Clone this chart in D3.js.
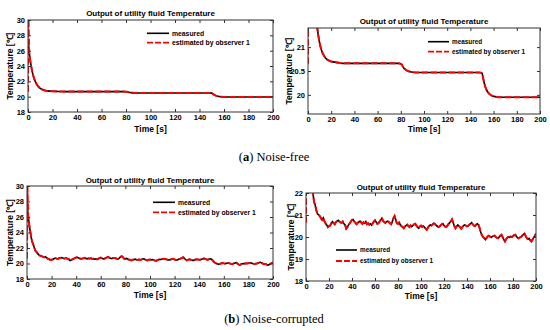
<!DOCTYPE html>
<html><head><meta charset="utf-8">
<script src="https://cdn.jsdelivr.net/npm/d3@7"></script>
<style>body{margin:0;background:#fff}svg{display:block}</style>
</head><body>
<svg id="c" width="550" height="330"></svg>
<script>
// ---------- DATA ----------
const seriesNames = ["measured", "estimated by observer 1"];
const titleText = "Output of utility fluid Temperature";
const xLabel = "Time [s]";
const yLabel = "Temperature [\u2103]";
const xTicks = [0, 20, 40, 60, 80, 100, 120, 140, 160, 180, 200];
const yTicksWide = [18, 20, 22, 24, 26, 28, 30];
const yTicksZoomNF = [20, 20.5, 21];
const yTicksZoomN = [18, 19, 20, 21, 22];

// noise-free measured temperature
const timeNF = [0,1,2,3,4,5,6,7,8,10,12,14,16,18,20,25,30,40,50,60,70,78,80,81,82,83,84,86,88,90,95,100,120,140,148,150,151,152,153,154,155,156,158,160,163,166,170,180,190,200];
const measuredNF = [27.5,25.82,24.57,23.63,22.91,22.37,21.96,21.64,21.40,21.09,20.91,20.81,20.75,20.72,20.70,20.68,20.66,20.66,20.66,20.66,20.66,20.66,20.65,20.63,20.58,20.55,20.53,20.50,20.485,20.475,20.47,20.47,20.47,20.47,20.47,20.46,20.35,20.24,20.16,20.10,20.06,20.03,19.99,19.97,19.955,19.95,19.95,19.95,19.95,19.95];

// observer start-up transient (before it joins the measurement)
const estStartTime = [0, 0.35];
const estStartValue = [20.65, 30.0];

// noise-corrupted measured temperature, one sample per second (t = 0..200)
const measuredN = [
27.6,26.1,24.8,23.8,22.9,22.5,22.0,21.6,21.45,21.2,
21.05,21.0,20.95,20.85,20.78,20.87,20.72,20.62,20.55,20.45,
20.5,20.52,20.62,20.7,20.63,20.58,20.68,20.72,20.76,20.7,
20.66,20.64,20.7,20.6,20.55,20.38,20.45,20.55,20.62,20.7,
20.78,20.8,20.7,20.64,20.58,20.65,20.68,20.72,20.66,20.6,
20.67,20.62,20.7,20.58,20.62,20.56,20.6,20.54,20.62,20.7,
20.76,20.68,20.6,20.62,20.7,20.78,20.86,20.74,20.68,20.64,
20.7,20.72,20.68,20.62,20.58,20.7,20.85,20.95,20.8,20.62,
20.6,20.66,20.55,20.5,20.45,20.4,20.48,20.52,20.56,20.5,
20.45,20.52,20.47,20.52,20.58,20.6,20.52,20.45,20.4,20.48,
20.52,20.46,20.5,20.44,20.38,20.33,20.42,20.5,20.55,20.52,
20.57,20.62,20.6,20.54,20.5,20.46,20.47,20.53,20.58,20.6,
20.52,20.47,20.45,20.52,20.6,20.65,20.72,20.8,20.65,20.5,
20.4,20.48,20.55,20.5,20.44,20.38,20.45,20.52,20.55,20.52,
20.48,20.5,20.56,20.6,20.65,20.58,20.52,20.5,20.56,20.6,
20.55,20.4,20.2,20.08,20.0,19.95,19.88,19.95,20.03,20.06,
20.02,19.98,20.02,20.05,20.06,20.0,19.96,19.94,20.0,20.06,
20.1,20.0,19.88,19.8,19.9,19.97,20.0,19.98,20.02,20.0,
20.04,20.08,20.1,20.02,19.96,19.94,19.98,20.0,20.06,20.12,
20.15,20.05,19.95,19.9,19.94,19.85,19.8,19.88,19.98,20.05,
20.15];
const timeN = measuredN.map((_, i) => i);

const captionA = ["(", "a", ") Noise-free"];
const captionB = ["(", "b", ") Noise-corrupted"];

// ---------- DRAW ----------
const svg = d3.select("#c");
const FONT = "'Liberation Sans', Arial, Helvetica, sans-serif";

const panels = [
  {L:28, R:273, T:20, B:112, dom:[18,30], yt:yTicksWide, t:timeNF, v:measuredNF, curve:d3.curveMonotoneX,
   titleY:16, xlabY:131.5, ylabX:13, leg:{x:147, x2:169, y:33.3, dy:9.4, fs:6.8}},
  {L:308, R:540, T:28, B:114, dom:[19.6,21.4], yt:yTicksZoomNF, t:timeNF, v:measuredNF, curve:d3.curveMonotoneX,
   titleY:24, xlabY:131.8, ylabX:291.5, leg:{x:428, x2:449, y:41.7, dy:10, fs:6.4}},
  {L:27, R:273, T:186, B:279, dom:[18,30], yt:yTicksWide, t:timeN, v:measuredN, curve:d3.curveLinear,
   titleY:182.5, xlabY:297.8, ylabX:13, leg:{x:153, x2:175, y:202.3, dy:10, fs:6.8}},
  {L:306, R:536, T:193, B:281, dom:[18,22], yt:yTicksZoomN, t:timeN, v:measuredN, curve:d3.curveLinear,
   titleY:190, xlabY:298.8, ylabX:293.5, leg:{x:336, x2:357, y:250, dy:11, fs:6.4}}
];

const DASH = "6.5,2.5";

panels.forEach((p, idx) => {
  const x = d3.scaleLinear().domain([0, 200]).range([p.L, p.R]);
  const y = d3.scaleLinear().domain(p.dom).range([p.B, p.T]);
  const g = svg.append("g");

  const clipId = "clip" + idx;
  svg.append("clipPath").attr("id", clipId).append("rect")
    .attr("x", p.L).attr("y", p.T).attr("width", p.R - p.L).attr("height", p.B - p.T);

  const meas = p.t.map((t, i) => [t, p.v[i]]);
  const est = estStartTime.map((t, i) => [t, estStartValue[i]])
    .concat(meas.filter(d => d[0] >= 1));

  const line = d3.line().x(d => x(d[0])).y(d => y(d[1])).curve(p.curve);
  const lg = g.append("g").attr("clip-path", `url(#${clipId})`);
  lg.append("path").attr("d", line(meas)).attr("fill", "none")
    .attr("stroke", "#000").attr("stroke-width", 1.6);
  lg.append("path").attr("d", line(est)).attr("fill", "none")
    .attr("stroke", "#ff0000").attr("stroke-width", 2).attr("stroke-dasharray", DASH);

  // axes
  const styleAxis = (sel, labels) => {
    sel.select(".domain").remove();
    sel.selectAll(".tick line").attr("stroke", "#333");
    sel.selectAll(".tick text").attr("font-family", FONT).attr("font-weight", "bold")
      .attr("font-size", 7.5).attr("fill", "#000");
    if (!labels) sel.selectAll(".tick text").remove();
  };
  g.append("g").attr("transform", `translate(0,${p.B})`)
    .call(d3.axisBottom(x).tickValues(xTicks).tickSize(-3).tickPadding(3).tickFormat(d3.format("d")))
    .call(s => styleAxis(s, true));
  g.append("g").attr("transform", `translate(0,${p.T})`)
    .call(d3.axisTop(x).tickValues(xTicks).tickSize(-3))
    .call(s => styleAxis(s, false));
  g.append("g").attr("transform", `translate(${p.L},0)`)
    .call(d3.axisLeft(y).tickValues(p.yt).tickSize(-3).tickPadding(3).tickFormat(d => String(d)))
    .call(s => styleAxis(s, true));
  g.append("g").attr("transform", `translate(${p.R},0)`)
    .call(d3.axisRight(y).tickValues(p.yt).tickSize(-3))
    .call(s => styleAxis(s, false));

  g.append("rect").attr("x", p.L).attr("y", p.T).attr("width", p.R - p.L).attr("height", p.B - p.T)
    .attr("fill", "none").attr("stroke", "#333").attr("stroke-width", 1);

  // title & labels
  g.append("text").attr("x", (p.L + p.R) / 2).attr("y", p.titleY).attr("text-anchor", "middle")
    .attr("font-family", FONT).attr("font-weight", "bold").attr("font-size", 8).text(titleText);
  g.append("text").attr("x", (p.L + p.R) / 2).attr("y", p.xlabY).attr("text-anchor", "middle")
    .attr("font-family", FONT).attr("font-weight", "bold").attr("font-size", 8.5).text(xLabel);
  g.append("text").attr("transform", `translate(${p.ylabX},${(p.T + p.B) / 2}) rotate(-90)`)
    .attr("text-anchor", "middle").attr("font-family", FONT).attr("font-weight", "bold")
    .attr("font-size", 8.5).text(yLabel);

  // legend
  const L = p.leg;
  seriesNames.forEach((name, i) => {
    const yy = L.y + i * L.dy;
    const ln = g.append("line").attr("x1", L.x).attr("x2", L.x2).attr("y1", yy).attr("y2", yy)
      .attr("stroke", i === 0 ? "#000" : "#ff0000").attr("stroke-width", i === 0 ? 1.6 : 1.8);
    if (i === 1) ln.attr("stroke-dasharray", "6,2");
    g.append("text").attr("x", L.x2 + 3).attr("y", yy + L.fs * 0.36)
      .attr("font-family", FONT).attr("font-weight", "bold").attr("font-size", L.fs).text(name);
  });
});

// captions
function caption(parts, yb) {
  const t = svg.append("text").attr("x", 274).attr("y", yb).attr("text-anchor", "middle")
    .attr("font-family", "'Liberation Serif', 'Times New Roman', serif").attr("font-size", 12.5).attr("fill", "#000");
  parts.forEach((s, i) => t.append("tspan").attr("font-weight", i === 1 ? "bold" : "normal").text(s));
}
caption(captionA, 161);
caption(captionB, 323);
</script>
</body></html>
